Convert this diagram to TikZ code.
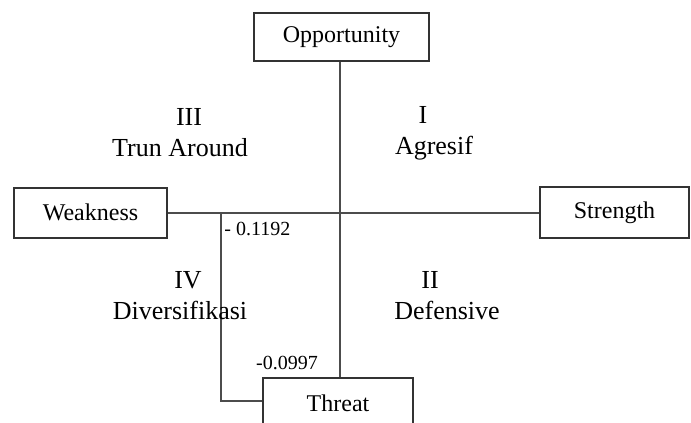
\documentclass[tikz,border=0pt]{standalone}
\usepackage{fontspec}
\setmainfont{Liberation Serif}
\begin{document}
\begin{tikzpicture}[x=0.5pt,y=-0.5pt,
  box/.style={draw=black!80,line width=1pt,fill=white,inner sep=0pt,font=\fontsize{12}{14}\selectfont},
  axis/.style={draw=black!70,line width=1.2pt},
  quad/.style={align=center,font=\fontsize{13}{15.5}\selectfont,inner sep=0pt},
  num/.style={font=\fontsize{10}{12}\selectfont,inner sep=0pt}]
\useasboundingbox (0,0) rectangle (691,423);
\clip (0,0) rectangle (691,423);
\coordinate (c) at (340,213);
\coordinate (k1) at (221,213);
\coordinate (k2) at (221,401);
% boxes
\node[box,minimum width=87.5pt,minimum height=24pt] (opp) at (341.5,37) {Opportunity};
\node[box,minimum width=76.5pt,minimum height=25pt] (weak) at (90.5,212.5) {Weakness};
\node[box,minimum width=74.5pt,minimum height=25.5pt] (str) at (614.5,212.5) {Strength};
\node[box,minimum width=75pt,minimum height=25pt] (thr) at (338,403) {Threat};
% axes
\draw[axis] (opp.south -| c) -- (thr.north -| c);
\draw[axis] (weak.east |- c) -- (str.west |- c);
\draw[axis] (k1) -- (k2) -- (k2 -| thr.west);
% quadrant labels
\node[quad] (q3) at (180,133) {\makebox[0pt]{\hspace{9pt}III}\\Trun Around};
\node[quad] (q1) at (434,133) {\makebox[0pt]{\hspace{-11pt}I}\\Agresif};
\node[quad] (q4) at (180,296) {\makebox[0pt]{\hspace{8pt}IV}\\Diversifikasi};
\node[quad] (q2) at (447,296) {\makebox[0pt]{\hspace{-17pt}II}\\Defensive};
% values
\node[num,anchor=west] (v1) at (224,229) {- 0.1192};
\node[num] (v2) at (287,363) {-0.0997};
\end{tikzpicture}
\end{document}
